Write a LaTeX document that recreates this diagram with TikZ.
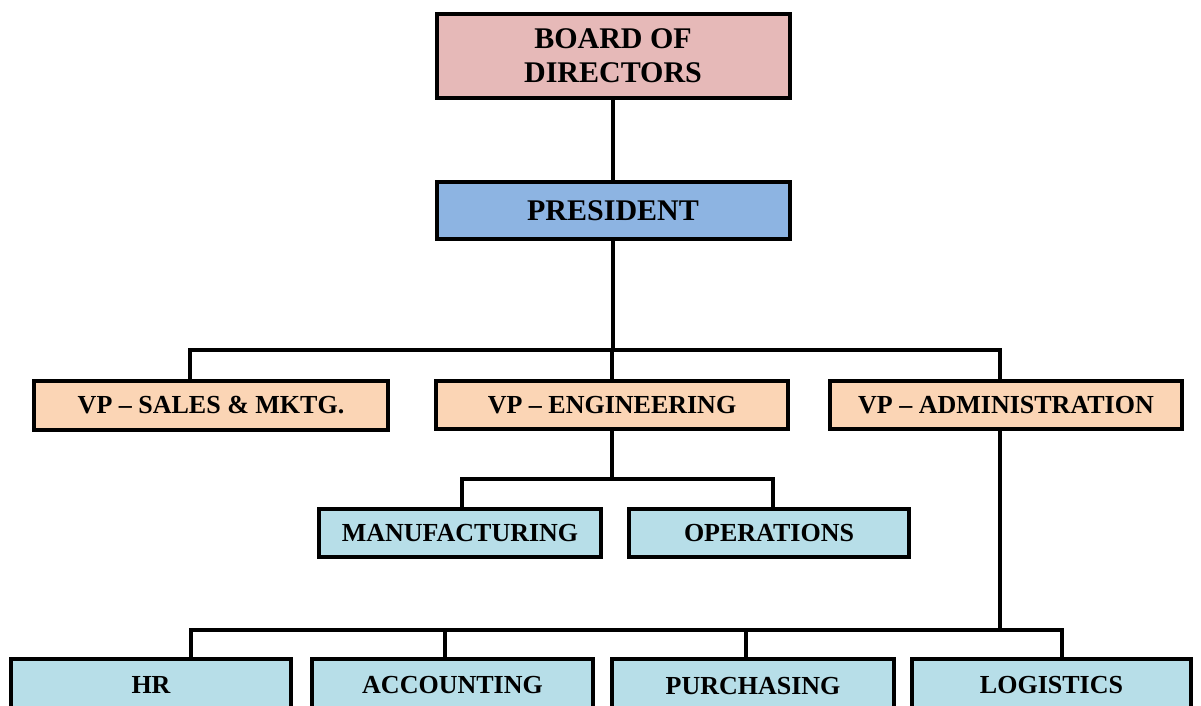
\documentclass[tikz,border=0pt]{standalone}
\usepackage{fontspec}
\setmainfont{Liberation Serif}
\definecolor{boardc}{HTML}{E6B9B8}
\definecolor{presc}{HTML}{8DB4E2}
\definecolor{vpc}{HTML}{FBD5B5}
\definecolor{deptc}{HTML}{B7DEE8}
\begin{document}
\begin{tikzpicture}[x=1pt,y=-1pt,
  box/.style={draw=black, line width=4pt, rectangle, inner sep=0pt, align=center,
    font=\fontsize{26}{31}\selectfont\bfseries},
  bigbox/.style={box, font=\fontsize{30}{34}\selectfont\bfseries},
  conn/.style={draw=black, line width=3.5pt, line cap=rect}]
\useasboundingbox (0,0) rectangle (1201,706);
\fill[white] (0,0) rectangle (1201,706);
\clip (0,0) rectangle (1201,706);
% nodes
\node[bigbox, fill=boardc, minimum width=353pt, minimum height=84pt] (board) at (613,56) {BOARD OF\\DIRECTORS};
\node[bigbox, fill=presc, minimum width=353pt, minimum height=57pt] (pres) at (613,210.5) {PRESIDENT};
\node[box, fill=vpc, minimum width=354pt, minimum height=49pt] (vps) at (211,405.5) {VP -- SALES \& MKTG.};
\node[box, fill=vpc, minimum width=352pt, minimum height=48pt] (vpe) at (612,405) {VP -- ENGINEERING};
\node[box, fill=vpc, minimum width=352pt, minimum height=48pt] (vpa) at (1006,405) {VP -- ADMINISTRATION};
\node[box, fill=deptc, minimum width=282pt, minimum height=48pt] (mfg) at (460,533) {MANUFACTURING};
\node[box, fill=deptc, minimum width=280pt, minimum height=48pt] (ops) at (769,533) {OPERATIONS};
\node[box, fill=deptc, minimum width=280pt, minimum height=54pt] (hr) at (151,686) {\raisebox{2pt}{HR}};
\node[box, fill=deptc, minimum width=281pt, minimum height=54pt] (acc) at (452.5,686) {\raisebox{2pt}{ACCOUNTING}};
\node[box, fill=deptc, minimum width=282pt, minimum height=54pt] (pur) at (753,686) {PURCHASING};
\node[box, fill=deptc, minimum width=279pt, minimum height=54pt] (log) at (1051.5,686) {\raisebox{2pt}{LOGISTICS}};
% bar coordinates
\coordinate (b1l) at (190,350);
\coordinate (b1r) at (1000,350);
\coordinate (b2l) at (462,479);
\coordinate (b2r) at (773,479);
\coordinate (b3l) at (191,630);
\coordinate (b3r) at (1062,630);
\coordinate (b3a) at (445,630);
\coordinate (b3p) at (746,630);
% connectors
\draw[conn] (board.south) -- (pres.north);
\draw[conn] (pres.south) -- (pres.south |- b1l);
\draw[conn] (vps.north -| b1l) |- (b1r) -- (vpa.north -| b1r);
\draw[conn] (vpe.north) -- (vpe.north |- b1l);
\draw[conn] (vpe.south) -- (vpe.south |- b2l);
\draw[conn] (mfg.north -| b2l) |- (b2r) -- (ops.north -| b2r);
\draw[conn] (vpa.south -| b1r) -- (b1r |- b3l);
\draw[conn] (hr.north -| b3l) |- (b3r) -- (log.north -| b3r);
\draw[conn] (acc.north -| b3a) -- (b3a);
\draw[conn] (pur.north -| b3p) -- (b3p);
\end{tikzpicture}
\end{document}
